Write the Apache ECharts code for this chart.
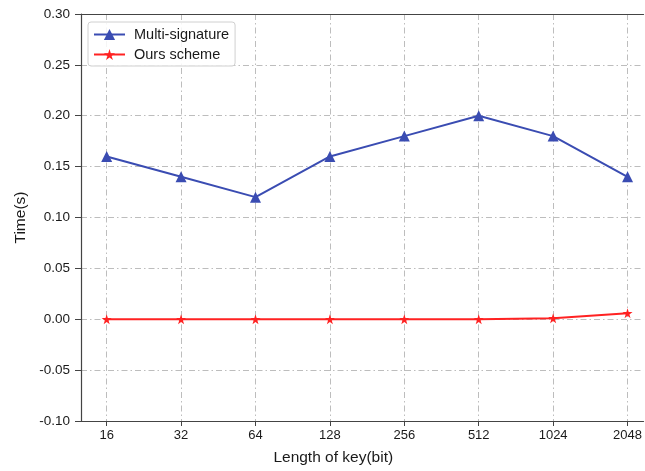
<!DOCTYPE html>
<html>
<head>
<meta charset="utf-8">
<script src="https://cdn.jsdelivr.net/npm/echarts@6/dist/echarts.min.js"></script>
<style>
  html, body { margin: 0; padding: 0; background: #fff; }
  #chart { width: 645px; height: 471px; }
</style>
</head>
<body>
<div id="chart"></div>
<script>
// Key lengths (bits) along the x axis
const keyLengths = ['16', '32', '64', '128', '256', '512', '1024', '2048'];
// Signing time in seconds for each scheme
const multiSignature = [0.16, 0.14, 0.12, 0.16, 0.18, 0.20, 0.18, 0.14];
const oursScheme = [0.0, 0.0, 0.0, 0.0, 0.0, 0.0, 0.001, 0.006];
// Y axis tick range
const yTicks = { min: -0.10, max: 0.30, step: 0.05 };

const positions = keyLengths.map((_, i) => i);
const toPairs = arr => arr.map((v, i) => [i, v]);

const font = 'Liberation Sans, Arial, sans-serif';
const frameColor = '#444';
const gridLine = { show: true, lineStyle: { color: '#bdbdbd', width: 1, type: [6, 3, 1.5, 3] } };

const chart = echarts.init(document.getElementById('chart'));
chart.setOption({
  animation: false,
  backgroundColor: '#fff',
  grid: { left: 81, top: 14, right: 0, bottom: 49.5 },
  legend: {
    orient: 'vertical',
    left: 88, top: 22,
    padding: [5, 6, 4, 5],
    itemGap: 5,
    itemWidth: 31, itemHeight: 14,
    borderColor: '#d0d0d0', borderWidth: 1, borderRadius: 3,
    backgroundColor: 'rgba(255,255,255,0.85)',
    textStyle: { fontFamily: font, fontSize: 14.5, color: '#1a1a1a', padding: [0, 0, 0, 4] },
    data: ['Multi-signature', 'Ours scheme']
  },
  xAxis: [
    {
      type: 'value',
      min: -0.345, max: 7.215,
      name: 'Length of key(bit)',
      nameLocation: 'middle',
      nameGap: 29,
      nameTextStyle: { fontFamily: font, fontSize: 15.5, color: '#1a1a1a', padding: [0, 58, 0, 0] },
      axisLine: { show: true, onZero: false, lineStyle: { color: frameColor, width: 1.2 } },
      axisTick: { show: true, customValues: positions, length: 5, lineStyle: { color: frameColor } },
      axisLabel: {
        customValues: positions,
        formatter: v => keyLengths[Math.round(v)],
        fontFamily: font, fontSize: 13, color: '#1a1a1a', margin: 8
      },
      splitLine: gridLine
    },
    {
      // top frame line
      type: 'value',
      position: 'top',
      min: -0.345, max: 7.215,
      axisLine: { show: true, onZero: false, lineStyle: { color: frameColor, width: 1.2 } },
      axisTick: { show: false },
      axisLabel: { show: false },
      splitLine: { show: false }
    }
  ],
  yAxis: {
    type: 'value',
    min: yTicks.min, max: yTicks.max, interval: yTicks.step,
    name: 'Time(s)',
    nameLocation: 'middle',
    nameGap: 52,
    nameTextStyle: { fontFamily: font, fontSize: 15.5, color: '#1a1a1a' },
    axisLine: { show: true, onZero: false, lineStyle: { color: frameColor, width: 1.2 } },
    axisTick: { show: true, length: 6, lineStyle: { color: frameColor } },
    axisLabel: {
      formatter: v => v.toFixed(2),
      fontFamily: font, fontSize: 13.5, color: '#1a1a1a', margin: 11
    },
    splitLine: gridLine
  },
  series: [
    {
      name: 'Multi-signature',
      type: 'line',
      data: toPairs(multiSignature),
      symbol: 'triangle', symbolSize: 11,
      lineStyle: { color: '#3a4cb2', width: 2 },
      itemStyle: { color: '#3a4cb2' },
      z: 3
    },
    {
      name: 'Ours scheme',
      type: 'line',
      data: toPairs(oursScheme),
      symbol: 'path://M50,0 L61,35 L98,35 L68,57 L79,91 L50,70 L21,91 L32,57 L2,35 L39,35 Z',
      symbolSize: 10,
      lineStyle: { color: '#ff2222', width: 2 },
      itemStyle: { color: '#ff2222' },
      z: 4
    }
  ]
});
</script>
</body>
</html>
